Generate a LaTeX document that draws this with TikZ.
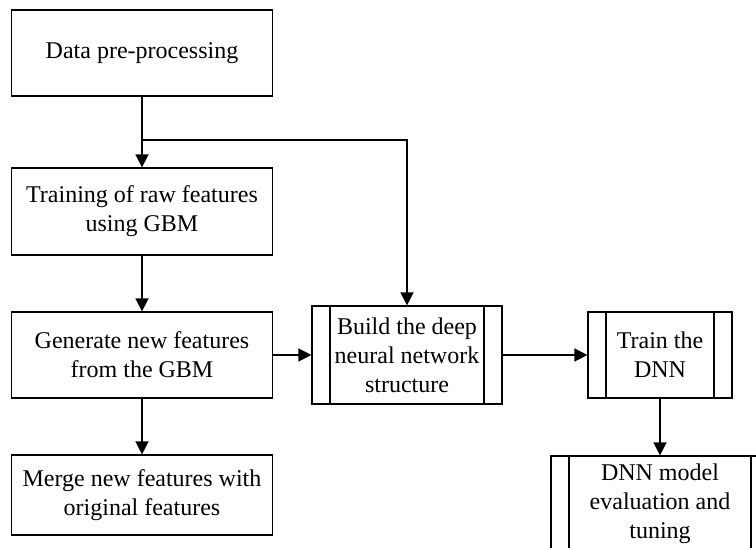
\documentclass[tikz,border=0pt]{standalone}
\usepackage{fontspec}
\setmainfont{Liberation Serif}
\usetikzlibrary{arrows.meta}
\tikzset{
  stepbox/.style={draw,line width=1.2pt,align=center,font=\fontsize{24}{29}\selectfont,inner sep=0pt},
  subbox/.style={stepbox,path picture={
    \draw[line width=1.2pt] ([xshift=18pt]path picture bounding box.north west) -- ([xshift=18pt]path picture bounding box.south west);
    \draw[line width=1.2pt] ([xshift=-18pt]path picture bounding box.north east) -- ([xshift=-18pt]path picture bounding box.south east);}},
  flow/.style={line width=1.5pt,-{Triangle[width=13pt,length=13pt]}}
}
\begin{document}
\begin{tikzpicture}[x=1pt,y=1pt]
\clip (0,0) rectangle (756,548);

\node[stepbox,minimum width=261,minimum height=86] (prep) at (142,495) {Data pre-processing};
\node[stepbox,minimum width=261,minimum height=87] (rawgbm) at (142,336.5) {Training of raw features\\using GBM};
\node[stepbox,minimum width=261,minimum height=86] (newfeat) at (142,193) {Generate new features\\from the GBM};
\node[stepbox,minimum width=261,minimum height=80] (merge) at (142,53) {Merge new features with\\original features};
\node[subbox,minimum width=190,minimum height=98] (build) at (407,193) {Build the deep\\neural network\\structure};
\node[subbox,minimum width=144,minimum height=86] (traindnn) at (660,193) {Train the\\DNN};
\node[subbox,minimum width=218,minimum height=96] (evaldnn) at (660,44) {DNN model\\evaluation and\\tuning};

\coordinate (fork) at (142,408);
\draw[line width=1.5pt] (prep) -- (fork);
\draw[flow] (fork) -- (rawgbm);
\draw[flow] (fork) -| (build);
\draw[flow] (rawgbm) -- (newfeat);
\draw[flow] (newfeat) -- (merge);
\draw[flow] (newfeat) -- (build);
\draw[flow] (build) -- (traindnn);
\draw[flow] (traindnn) -- (evaldnn);
\end{tikzpicture}
\end{document}
